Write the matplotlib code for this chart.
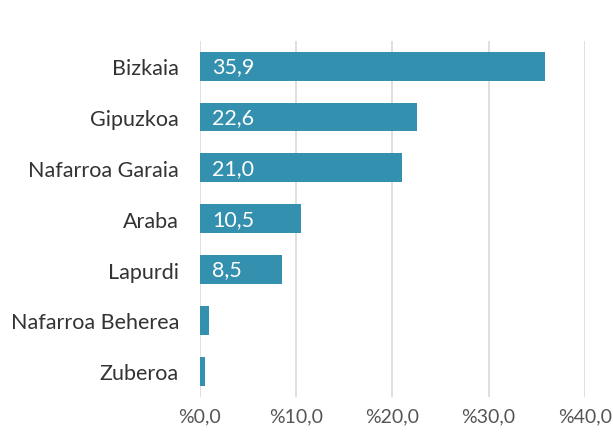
import matplotlib
matplotlib.use("Agg")
import matplotlib.pyplot as plt

plt.rcParams['font.family'] = ['Lato', 'DejaVu Sans']

herrialdeak = ['Bizkaia', 'Gipuzkoa', 'Nafarroa Garaia', 'Araba', 'Lapurdi',
               'Nafarroa Beherea', 'Zuberoa']
balioak = [35.9, 22.6, 21.0, 10.5, 8.5, 1.0, 0.5]
ticks = [0, 10, 20, 30, 40]
tick_labels = ['%0,0', '%10,0', '%20,0', '%30,0', '%40,0']

kolorea = '#3390ae'

fig = plt.figure(figsize=(6.13, 4.35), dpi=100)
ax = fig.add_axes([0.326, 0.086, 0.628, 0.818])

pos = list(range(len(herrialdeak)))
ax.barh(pos, balioak, height=0.57, color=kolorea, zorder=3)

for p, v in zip(pos, balioak):
    if v > 5:
        ax.text(1.3, p, f'{v:.1f}'.replace('.', ','), color='white',
                va='center', ha='left', fontsize=15.5, zorder=4)

ax.set_yticks(pos)
ax.set_yticklabels(herrialdeak, fontsize=15.5, color='#333333')
ax.set_ylim(len(herrialdeak) - 0.5, -0.5)
ax.set_xlim(0, 40)
ax.set_xticks(ticks)
ax.set_xticklabels(tick_labels, fontsize=14, color='#555555')
ax.tick_params(axis='y', length=0, pad=15)
ax.tick_params(axis='x', length=0, pad=8)

ax.grid(axis='x', color='#d9d9d9', linewidth=1.2, zorder=0)
ax.grid(axis='y', visible=False)
for s in ax.spines.values():
    s.set_visible(False)

fig.savefig('out.png', dpi=100)
